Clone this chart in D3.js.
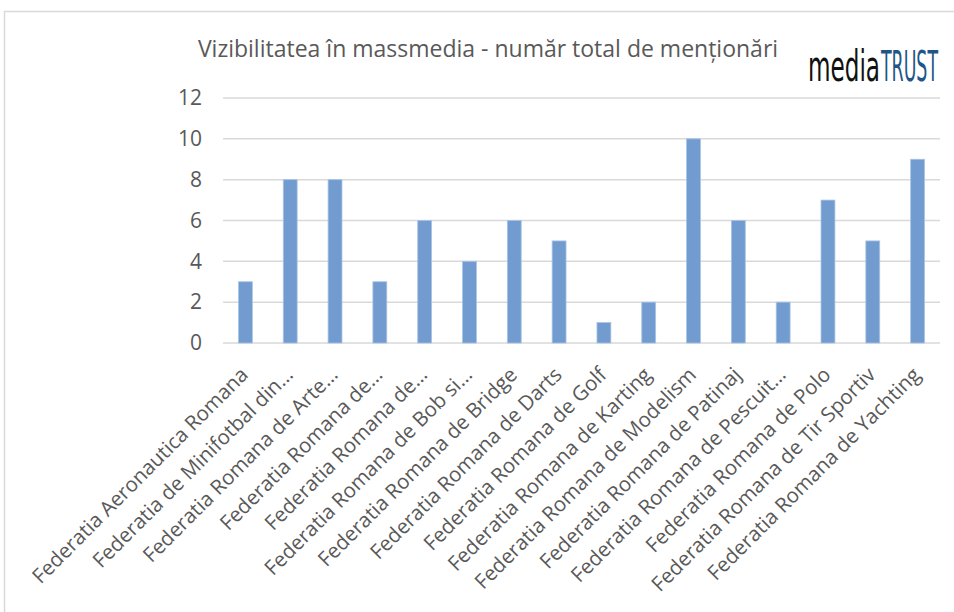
<!DOCTYPE html>
<html>
<head>
<meta charset="utf-8">
<script src="https://cdn.jsdelivr.net/npm/d3@7"></script>
<style>
  body { margin: 0; background: #fff; }
  svg { display: block; font-family: "Open Sans", sans-serif; }
</style>
</head>
<body>
<svg id="chart" width="954" height="612"></svg>
<script>
// Chart data
const categories = [
  "Federatia Aeronautica Romana",
  "Federatia de Minifotbal din…",
  "Federatia Romana de Arte…",
  "Federatia Romana de…",
  "Federatia Romana de… ",
  "Federatia Romana de Bob si…",
  "Federatia Romana de Bridge",
  "Federatia Romana de Darts",
  "Federatia Romana de Golf",
  "Federatia Romana de Karting",
  "Federatia Romana de Modelism",
  "Federatia Romana de Patinaj",
  "Federatia Romana de Pescuit…",
  "Federatia Romana de Polo",
  "Federatia Romana de Tir Sportiv",
  "Federatia Romana de Yachting"
];
const mentions = [3, 8, 8, 3, 6, 4, 6, 5, 1, 2, 10, 6, 2, 7, 5, 9];
const yTicks = [0, 2, 4, 6, 8, 10, 12];
const title = "Vizibilitatea în massmedia - număr total de menționări";

const data = categories.map((c, i) => ({ name: c, value: mentions[i] }));

const svg = d3.select("#chart");

// Outer frame (only top and left edges are visible in the picture)
svg.append("rect")
  .attr("x", 4.5)
  .attr("y", 11.5)
  .attr("width", 1000)
  .attr("height", 700)
  .attr("fill", "none")
  .attr("stroke", "#d9d9d9")
  .attr("stroke-width", 1.5);

// Scales
const x = d3.scaleBand()
  .domain(data.map((d) => d.name))
  .range([223, 940])
  .paddingInner(0.69)
  .paddingOuter(0.345);

const y = d3.scaleLinear()
  .domain([0, 12])
  .range([343, 98]);

// Gridlines
svg.append("g")
  .selectAll("line")
  .data(yTicks)
  .join("line")
  .attr("x1", 223)
  .attr("x2", 940)
  .attr("y1", (d) => y(d))
  .attr("y2", (d) => y(d))
  .attr("stroke", "#d9d9d9")
  .attr("stroke-width", 1.5);

// Y axis labels
const yAxis = svg.append("g")
  .attr("transform", "translate(202,0)")
  .call(d3.axisLeft(y).tickValues(yTicks).tickSize(0).tickPadding(0));
yAxis.select(".domain").remove();
yAxis.selectAll("text")
  .attr("fill", "#595959")
  .style("font-family", "'Open Sans', sans-serif")
  .style("font-size", "21px");

// Bars
svg.append("g")
  .selectAll("rect")
  .data(data)
  .join("rect")
  .attr("x", (d) => x(d.name))
  .attr("y", (d) => y(d.value))
  .attr("width", x.bandwidth())
  .attr("height", (d) => y(0) - y(d.value))
  .attr("fill", "#729ccf")
  .attr("stroke", "#a9c4e6")
  .attr("stroke-width", 0.8);

// Category labels, rotated
const xAxis = svg.append("g")
  .attr("transform", `translate(0,${y(0)})`)
  .call(d3.axisBottom(x).tickSize(0).tickPadding(0));
xAxis.select(".domain").remove();
xAxis.selectAll("text")
  .attr("fill", "#595959")
  .attr("text-anchor", "end")
  .attr("dy", "0")
  .attr("transform", "translate(4,33) rotate(-45)")
  .style("font-family", "'Open Sans', sans-serif")
  .style("font-size", "20.5px");

// Title
svg.append("text")
  .attr("x", 488)
  .attr("y", 57)
  .attr("text-anchor", "middle")
  .attr("fill", "#595959")
  .style("font-size", "23px")
  .text(title);

// Logo: tall condensed words, squeezed horizontally to fit their width
const logoFont = "'Liberation Sans Narrow', 'DejaVu Sans Condensed', sans-serif";
function logoWord(word, x0, width, color) {
  const t = svg.append("text")
    .attr("fill", color)
    .style("font-family", logoFont)
    .style("font-size", "42px")
    .text(word);
  const s = width / t.node().getComputedTextLength();
  t.attr("transform", `translate(${x0},81) scale(${s},1)`);
}
logoWord("media", 808, 72, "#111");
logoWord("TRUST", 881, 57, "#1f5689");
</script>
</body>
</html>
